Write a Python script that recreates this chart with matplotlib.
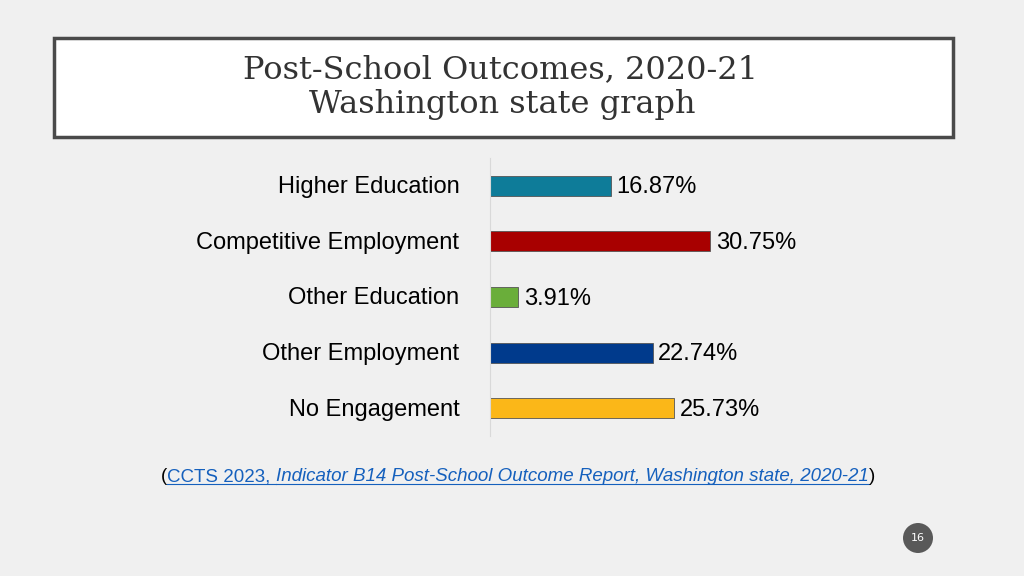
import matplotlib
matplotlib.use("Agg")
import matplotlib.pyplot as plt
from matplotlib.patches import Rectangle, Ellipse
from matplotlib.lines import Line2D

categories = ["Higher Education", "Competitive Employment", "Other Education",
              "Other Employment", "No Engagement"]
values = [16.87, 30.75, 3.91, 22.74, 25.73]
colors = ["#0e7c99", "#a80000", "#6aae3a", "#003a8c", "#fbb718"]

W, H = 1024, 576
fig = plt.figure(figsize=(W / 100, H / 100), dpi=100, facecolor="#f0f0f0")

# title box
fig.patches.append(Rectangle((54 / W, 1 - 137 / H), 899 / W, 99 / H, transform=fig.transFigure,
                             facecolor="white", edgecolor="#4a4a4a", linewidth=2.5))
fig.text(500 / W, 1 - 70 / H, "Post-School Outcomes, 2020-21", ha="center", va="center",
         fontsize=23, family="DejaVu Serif", color="#333333")
fig.text(502 / W, 1 - 105 / H, "Washington state graph", ha="center", va="center",
         fontsize=23, family="DejaVu Serif", color="#333333")

# bar chart
ax = fig.add_axes([490 / W, 1 - 436 / H, 400 / W, 278 / H])
ax.set_facecolor("none")
ypos = list(range(len(categories)))
ax.barh(ypos, values, height=0.36, color=colors, edgecolor="#555555", linewidth=0.6)
for y, v in zip(ypos, values):
    ax.text(v + 0.8, y + 0.03, f"{v:.2f}%", va="center", ha="left", fontsize=17,
            family="Liberation Sans", color="black")
ax.set_xlim(0, 400 / 7.15)
ax.set_ylim(4.5, -0.5)
ax.set_yticks([y - 0.02 for y in ypos])
ax.set_yticklabels(categories, fontsize=17, family="Liberation Sans")
ax.tick_params(axis="y", length=0, pad=22)
ax.set_xticks([])
for s in ["top", "right", "bottom"]:
    ax.spines[s].set_visible(False)
ax.spines["left"].set_color("#d9d9d9")

# footnote with link-styled pieces
pieces = [("(", "black", "normal", False),
          ("CCTS 2023, ", "#1560bd", "normal", True),
          ("Indicator B14 Post-School Outcome Report, Washington state, 2020-21", "#1560bd", "italic", True),
          (")", "black", "normal", False)]
fig.canvas.draw()
r = fig.canvas.get_renderer()
texts = []
for s, c, st, u in pieces:
    t = fig.text(0, 1 - 481 / H, s, color=c, style=st, fontsize=13.5,
                 family="Liberation Sans", va="baseline", ha="left")
    texts.append((t, u))
widths = [t.get_window_extent(r).width for t, _ in texts]
x = 518 - sum(widths) / 2
for (t, u), w in zip(texts, widths):
    t.set_x(x / W)
    if u:
        fig.lines.append(Line2D([x / W, (x + w) / W], [1 - 484 / H] * 2,
                                transform=fig.transFigure, color="#1560bd", linewidth=0.8))
    x += w

# page number
fig.patches.append(Ellipse((918 / W, 1 - 538 / H), 30 / W, 30 / H, transform=fig.transFigure,
                           facecolor="#595959", edgecolor="none"))
fig.text(918 / W, 1 - 538 / H, "16", ha="center", va="center", fontsize=8, color="white")

fig.savefig("out.png", dpi=100, facecolor=fig.get_facecolor())
